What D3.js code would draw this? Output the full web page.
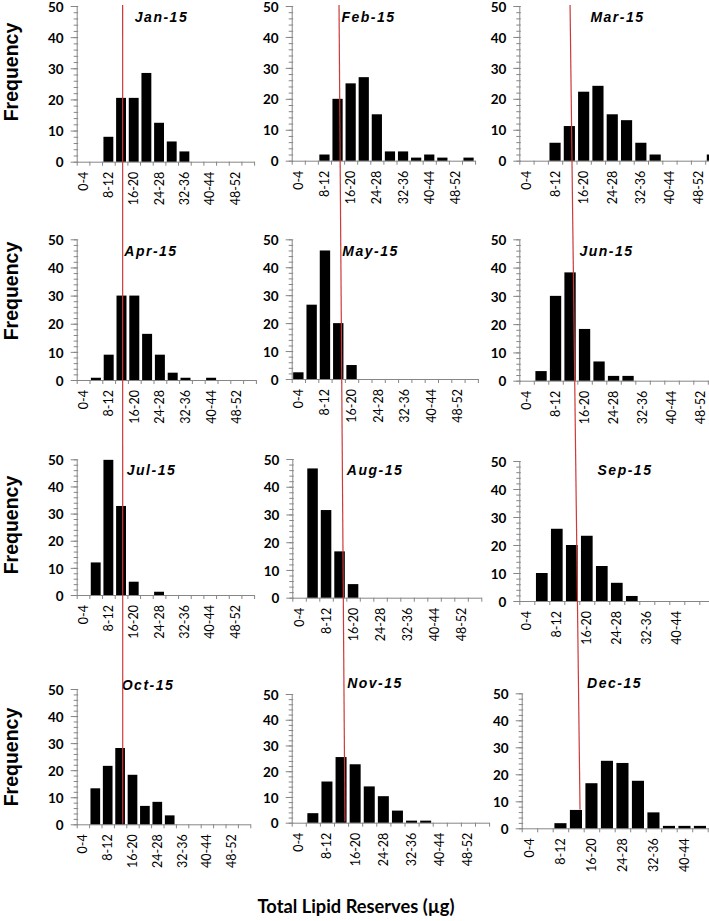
<!DOCTYPE html>
<html>
<head>
<meta charset="utf-8">
<script src="https://cdn.jsdelivr.net/npm/d3@7"></script>
<style>
  html, body { margin: 0; padding: 0; background: #fff; }
  svg { display: block; }
</style>
</head>
<body>
<svg id="chart" width="709" height="921"></svg>
<script>
// ---------------- DATA ----------------
const bins = ["0-4","4-8","8-12","12-16","16-20","20-24","24-28","28-32","32-36","36-40","40-44","44-48","48-52","52-56"];
const tickLabels = ["0-4","8-12","16-20","24-28","32-36","40-44","48-52"];
const yTicks = [0, 10, 20, 30, 40, 50];
const months = ["Jan-15","Feb-15","Mar-15","Apr-15","May-15","Jun-15","Jul-15","Aug-15","Sep-15","Oct-15","Nov-15","Dec-15"];

const jan = [0, 0, 8, 20.5, 20.5, 28.5, 12.5, 6.5, 3.3, 0, 0, 0, 0, 0];
const feb = [0, 0, 2, 20, 25, 27, 15, 3, 3, 1, 2, 1, 0, 1];
const mar = [0, 0, 5.8, 11.2, 22.3, 24.2, 15, 13.1, 5.8, 2, 0, 0, 0, 2];
const apr = [0, 0.8, 9, 30, 30, 16.4, 9, 2.6, 0.8, 0, 0.8, 0, 0, 0];
const may = [2.4, 26.6, 46, 20, 5, 0, 0, 0, 0, 0, 0, 0, 0, 0];
const jun = [0, 3.4, 30, 38.3, 18.3, 6.8, 1.7, 1.7, 0, 0, 0, 0, 0, 0];
const jul = [0, 12, 49.8, 32.8, 4.9, 0, 1.2, 0, 0, 0, 0, 0, 0, 0];
const aug = [0, 46.6, 31.6, 16.7, 4.9, 0, 0, 0, 0, 0, 0, 0, 0, 0];
const sep = [0, 10, 25.8, 20, 23.3, 12.5, 6.5, 1.8, 0, 0, 0, 0, 0, 0];
const oct = [0, 13.3, 21.6, 28.2, 18.3, 6.8, 8.3, 3.3, 0, 0, 0, 0, 0, 0];
const nov = [0, 3.7, 16, 25.5, 22.7, 14.1, 10.3, 4.7, 0.8, 0.8, 0, 0, 0, 0];
const dec = [0, 0, 1.9, 6.8, 16.7, 25, 24.2, 17.6, 5.9, 0.9, 0.9, 0.9, 0, 0];
const series = [jan, feb, mar, apr, may, jun, jul, aug, sep, oct, nov, dec];

// reference lines (µg value where the red line crosses the top and bottom panel of each column)
const refLines = [
  {top: 0, topVal: 14.5, bottom: 9,  bottomVal: 14.85, bottomY: 0.2},
  {top: 1, topVal: 14.45, bottom: 10, bottomVal: 15.1, bottomY: 0.5},
  {top: 2, topVal: 14.2, bottom: 11, bottomVal: 15.05, bottomY: 7.0}
];

// ---------------- LAYOUT (positions / sizes) ----------------
const layout = [
  {x0: 76.7,  bw: 12.67, y0: 161.7, y50: 6,     tx: 161.5, ty: 17},
  {x0: 291.7, bw: 13.1,  y0: 160.7, y50: 6,     tx: 368.5, ty: 17},
  {x0: 519.3, bw: 14.3,  y0: 160.7, y50: 6,     tx: 617.5, ty: 17},
  {x0: 76.7,  bw: 12.8,  y0: 380,   y50: 239.3, tx: 151,   ty: 250.7},
  {x0: 291.7, bw: 13.3,  y0: 379,   y50: 239.3, tx: 370.5, ty: 250.7},
  {x0: 519.3, bw: 14.5,  y0: 380.7, y50: 239.3, tx: 606.5, ty: 250.7},
  {x0: 76.7,  bw: 12.67, y0: 595,   y50: 459.3, tx: 151.5, ty: 470},
  {x0: 292.3, bw: 13.5,  y0: 597.7, y50: 459,   tx: 375,   ty: 470},
  {x0: 519.3, bw: 15,    y0: 601,   y50: 461,   tx: 625,   ty: 470},
  {x0: 76.7,  bw: 12.4,  y0: 824.3, y50: 689,   tx: 148,   ty: 685},
  {x0: 291.7, bw: 14.1,  y0: 822.7, y50: 694,   tx: 375,   ty: 683},
  {x0: 521.7, bw: 15.5,  y0: 828.3, y50: 693.3, tx: 614.5, ty: 683}
];
const freqY = [72, 291, 525, 757];
const W = 709;

const axisColor = "#868686";
const svg = d3.select("#chart");

const scales = [];

series.forEach((vals, i) => {
  const L = layout[i];
  const xEnd = L.x0 + bins.length * L.bw;
  const xb = d3.scaleBand().domain(bins).range([L.x0, xEnd]).paddingInner(0.22).paddingOuter(0.11);
  const xv = d3.scaleLinear().domain([0, 56]).range([L.x0, xEnd]);
  const y = d3.scaleLinear().domain([0, 50]).range([L.y0, L.y50]);
  scales.push({xb, xv, y});
  const g = svg.append("g");

  // minor y ticks
  const minor = g.append("g").attr("transform", `translate(${L.x0},0)`)
    .call(d3.axisLeft(y).tickValues(d3.range(0, 51, 2)).tickSize(3).tickFormat(""));
  minor.select(".domain").remove();
  minor.selectAll(".tick line").attr("stroke", axisColor).attr("x2", -3).attr("x1", 1.5);

  // major y ticks
  const ya = g.append("g").attr("transform", `translate(${L.x0},0)`)
    .call(d3.axisLeft(y).tickValues(yTicks).tickSize(6).tickSizeOuter(0).tickPadding(7));
  ya.select(".domain").attr("stroke", axisColor);
  ya.selectAll(".tick line").attr("stroke", axisColor);
  ya.selectAll(".tick text")
    .attr("dy", "0.38em")
    .attr("font-family", "Lato, 'Open Sans', sans-serif")
    .attr("font-weight", "bold").attr("font-size", 13.5).attr("fill", "#000");

  // x axis
  const xa = g.append("g").attr("transform", `translate(0,${L.y0})`)
    .call(d3.axisBottom(xv).tickValues(d3.range(0, 57, 4)).tickSize(4).tickSizeOuter(0).tickFormat(""));
  xa.select(".domain").attr("stroke", axisColor);
  xa.selectAll(".tick line").attr("stroke", axisColor);

  // x tick labels (rotated) - only those inside the figure
  const lx = d => xb(d) + xb.bandwidth() / 2 + 4.5;
  g.selectAll("text.xl").data(tickLabels.filter(d => lx(d) <= W - 3)).join("text")
    .attr("class", "xl")
    .attr("transform", d => `translate(${lx(d)},${L.y0 + 10}) rotate(-90)`)
    .attr("text-anchor", "end")
    .attr("font-family", "Lato, 'Open Sans', sans-serif")
    .attr("font-size", 12.5).attr("fill", "#000")
    .text(d => d);

  // bars
  g.selectAll("rect.bar").data(bins.map((b, k) => ({b, v: vals[k]})).filter(d => d.v > 0)).join("rect")
    .attr("class", "bar")
    .attr("x", d => xb(d.b))
    .attr("width", xb.bandwidth())
    .attr("y", d => y(d.v))
    .attr("height", d => y(0) - y(d.v))
    .attr("fill", "#000");

  // month title
  g.append("text")
    .attr("x", L.tx).attr("y", L.ty)
    .attr("text-anchor", "middle").attr("dominant-baseline", "central")
    .attr("font-family", "'Liberation Sans', Arial, sans-serif")
    .attr("font-weight", "bold").attr("font-style", "italic")
    .attr("font-size", 14).attr("letter-spacing", 1.5)
    .attr("fill", "#000")
    .text(months[i]);
});

// red reference lines
refLines.forEach(r => {
  const T = scales[r.top], B = scales[r.bottom];
  svg.append("line")
    .attr("x1", T.xv(r.topVal)).attr("y1", T.y(50) - 1)
    .attr("x2", B.xv(r.bottomVal)).attr("y2", B.y(r.bottomY))
    .attr("stroke", "#cc3a3a").attr("stroke-width", 1.2);
});

// Frequency labels
freqY.forEach(cy => {
  svg.append("text")
    .attr("transform", `translate(17.5,${cy}) rotate(-90)`)
    .attr("text-anchor", "middle")
    .attr("font-family", "'Liberation Sans', Arial, sans-serif")
    .attr("font-weight", "bold").attr("font-size", 19.5).attr("fill", "#000")
    .text("Frequency");
});

// x title
const xt = svg.append("text")
  .attr("x", 356).attr("y", 913)
  .attr("text-anchor", "middle")
  .attr("font-family", "Lato, 'Open Sans', sans-serif")
  .attr("font-weight", "bold").attr("font-size", 19).attr("fill", "#000")
  .text("Total Lipid Reserves (µg)");
const w = xt.node().getComputedTextLength();
if (w > 0) xt.attr("font-size", 19 * 197 / w);
</script>
</body>
</html>
